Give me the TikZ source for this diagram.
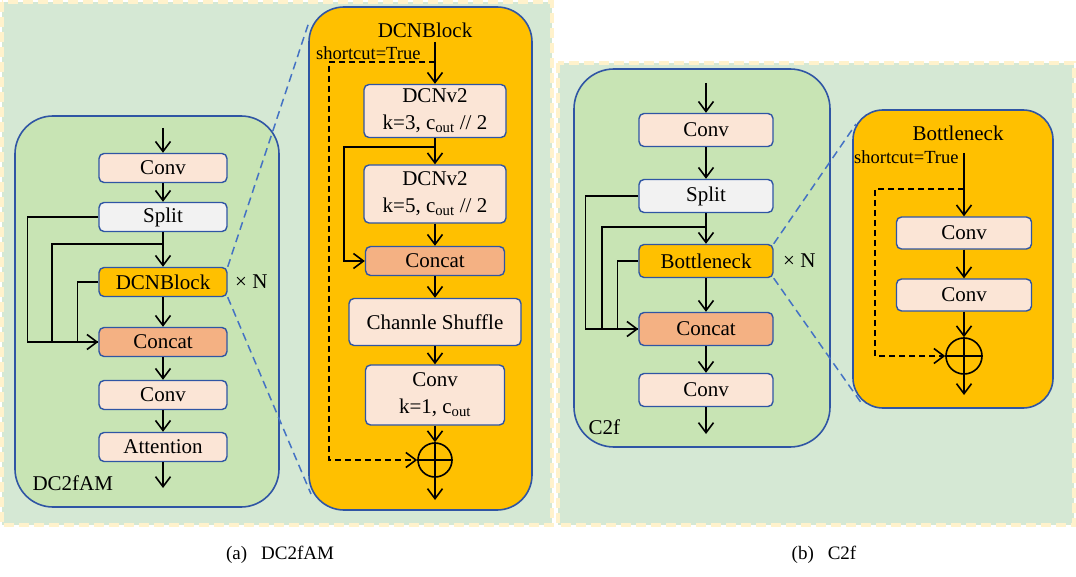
\documentclass[tikz,border=0pt]{standalone}
\usepackage{fontspec}
\setmainfont{Liberation Serif}
\usetikzlibrary{arrows.meta,positioning}
\definecolor{bggreen}{HTML}{D5E8D4}
\definecolor{bgedge}{HTML}{FFF2CC}
\definecolor{panelgreen}{HTML}{C8E4B4}
\definecolor{edgeblue}{HTML}{2F55A4}
\definecolor{zoomblue}{HTML}{4472C4}
\definecolor{peach}{HTML}{FBE5D6}
\definecolor{splitgray}{HTML}{F2F2F2}
\definecolor{blockyellow}{HTML}{FFC000}
\definecolor{catorange}{HTML}{F4B183}
\newcommand{\cout}{c\textsubscript{out}}

\begin{document}
\begin{tikzpicture}[x=1pt,y=-1pt,>={Straight Barb[length=10pt,width=15pt]},
  font=\fontsize{21}{27}\selectfont,
  blk/.style={draw=edgeblue,line width=1.4pt,rounded corners=5pt,fill=peach,
    minimum width=#1,minimum height=29pt,inner sep=0pt,align=center},
  blk/.default=128pt,
  flow/.style={->,line width=1.6pt},
  plain/.style={line width=1.6pt},
  skip/.style={->,line width=1.6pt,dash pattern=on 6pt off 4pt},
  zoomline/.style={zoomblue,line width=1.5pt,dash pattern=on 8pt off 5pt},
  bgbox/.style={fill=bggreen,draw=bgedge,line width=4pt,dash pattern=on 10pt off 5pt},
  panel/.style={draw=edgeblue,line width=1.6pt,rounded corners=#1},
  sumnode/.style={circle,draw,line width=1.6pt,minimum size=34pt,inner sep=0pt},
  small/.style={font=\fontsize{18.5}{21}\selectfont,inner sep=0pt}]
  \useasboundingbox (0,0) rectangle (1076,577);

  % backgrounds
  \draw[bgbox] (2,2) rectangle (552,525);
  \draw[bgbox] (558,63) rectangle (1074,525);

  % (a) DC2fAM
  \draw[panel=38pt,fill=panelgreen] (15,116) rectangle (279,507);
  \coordinate (lin) at (163,128);
  \node[blk] (lconv) at (163,168) {Conv};
  \node[blk,fill=splitgray] (lsplit) at (163,217) {Split};
  \node[blk,fill=blockyellow] (ldcn) at (163,282) {DCNBlock};
  \node[blk,fill=catorange] (lcat) at (163,342) {Concat};
  \node[blk] (lconv2) at (163,395) {Conv};
  \node[blk] (latt) at (163,447) {Attention};
  \coordinate (lout) at (163,488);
  \coordinate (lbr) at (163,244);
  \node[right=4pt of ldcn] (lrep) {× N};
  \node[anchor=west] (ltag) at (29,483) {DC2fAM};
  \draw[flow] (lin) -- (lconv);
  \draw[flow] (lconv) -- (lsplit);
  \draw[flow] (lsplit) -- (ldcn);
  \draw[flow] (ldcn) -- (lcat);
  \draw[flow] (lcat) -- (lconv2);
  \draw[flow] (lconv2) -- (latt);
  \draw[flow] (latt) -- (lout);
  \draw[plain] (lsplit.west) -- ++(-71,0) |- (lcat.west);
  \draw[plain] (lbr) -- ++(-111,0) |- (lcat.west);
  \draw[flow] (ldcn.west) -- ++(-21,0) |- (lcat.west);

  % zoom into DCNBlock
  \coordinate (dzt) at (309,22);
  \coordinate (dzb) at (311,494);
  \draw[zoomline] (ldcn.north east) -- (dzt);
  \draw[zoomline] (ldcn.south east) -- (dzb);

  \draw[panel=35pt,fill=blockyellow] (309,7) rectangle (532,510);
  \node (dtitle) at (425,30) {DCNBlock};
  \node[small,anchor=west] (dshort) at (316,53) {shortcut=True};
  \coordinate (din) at (435,42);
  \coordinate (dsc) at (435,62);
  \node[blk=142pt,minimum height=53pt] (ddcn1) at (435,111) {DCNv2\\k=3, \cout{} // 2};
  \node[blk=142pt,minimum height=58pt] (ddcn2) at (435,194) {DCNv2\\k=5, \cout{} // 2};
  \node[blk=139pt,fill=catorange] (dcat) at (435,261) {Concat};
  \node[blk=172pt,minimum height=47pt] (dshuf) at (435,322) {Channle Shuffle};
  \node[blk=139pt,minimum height=60pt] (dconv) at (435,395) {Conv\\k=1, \cout};
  \node[sumnode] (dsum) at (435,460) {};
  \coordinate (dout) at (435,500);
  \coordinate (dbr) at (435,147);
  \draw[flow] (din) -- (ddcn1);
  \draw[flow] (ddcn1) -- (ddcn2);
  \draw[flow] (ddcn2) -- (dcat);
  \draw[flow] (dcat) -- (dshuf);
  \draw[flow] (dshuf) -- (dconv);
  \draw[flow] (dconv) -- (dsum.north);
  \draw[plain] (dsum.west) -- (dsum.east);
  \draw[flow] (dsum.north) -- (dout);
  \draw[flow] (dbr) -- ++(-91,0) |- (dcat.west);
  \draw[skip] (dsc) -- ++(-106,0) |- (dsum.west);

  % (b) C2f
  \draw[panel=40pt,fill=panelgreen] (574,69) rectangle (830,447);
  \coordinate (rin) at (706,83);
  \node[blk=134pt,minimum height=33pt] (rconv) at (706,130) {Conv};
  \node[blk=134pt,minimum height=33pt,fill=splitgray] (rsplit) at (706,196) {Split};
  \node[blk=134pt,minimum height=33pt,fill=blockyellow] (rbot) at (706,261) {Bottleneck};
  \node[blk=134pt,minimum height=33pt,fill=catorange] (rcat) at (706,329) {Concat};
  \node[blk=134pt,minimum height=33pt] (rconv2) at (706,390) {Conv};
  \coordinate (rout) at (706,434);
  \coordinate (rbr) at (706,227);
  \node[right=6pt of rbot] (rrep) {× N};
  \node[anchor=west] (rtag) at (585,427) {C2f};
  \draw[flow] (rin) -- (rconv);
  \draw[flow] (rconv) -- (rsplit);
  \draw[flow] (rsplit) -- (rbot);
  \draw[flow] (rbot) -- (rcat);
  \draw[flow] (rcat) -- (rconv2);
  \draw[flow] (rconv2) -- (rout);
  \draw[plain] (rsplit.west) -- ++(-53,0) |- (rcat.west);
  \draw[plain] (rbr) -- ++(-104,0) |- (rcat.west);
  \draw[flow] (rbot.west) -- ++(-21,0) |- (rcat.west);

  % zoom into Bottleneck
  \coordinate (bzt) at (856,124);
  \coordinate (bzb) at (862,404);
  \draw[zoomline] (rbot.north east) -- (bzt);
  \draw[zoomline] (rbot.south east) -- (bzb);

  \draw[panel=30pt,fill=blockyellow] (853,110) rectangle (1053,408);
  \node (btitle) at (958,133) {Bottleneck};
  \node[small,anchor=west] (bshort) at (854,157) {shortcut=True};
  \coordinate (bin) at (964,153);
  \coordinate (bsc) at (964,189);
  \node[blk=135pt,minimum height=32pt] (bconv1) at (964,233) {Conv};
  \node[blk=135pt,minimum height=32pt] (bconv2) at (964,295) {Conv};
  \node[sumnode,minimum size=36pt] (bsum) at (964,356) {};
  \coordinate (bout) at (964,395);
  \draw[flow] (bin) -- (bconv1);
  \draw[flow] (bconv1) -- (bconv2);
  \draw[flow] (bconv2) -- (bsum.north);
  \draw[plain] (bsum.west) -- (bsum.east);
  \draw[flow] (bsum.north) -- (bout);
  \draw[skip] (bsc) -- ++(-89,0) |- (bsum.west);

  % captions
  \node[font=\fontsize{19}{22}\selectfont] (capa) at (280,555) {(a)\hspace{14pt}DC2fAM};
  \node[font=\fontsize{19}{22}\selectfont] (capb) at (824,555) {(b)\hspace{14pt}C2f};
\end{tikzpicture}
\end{document}
